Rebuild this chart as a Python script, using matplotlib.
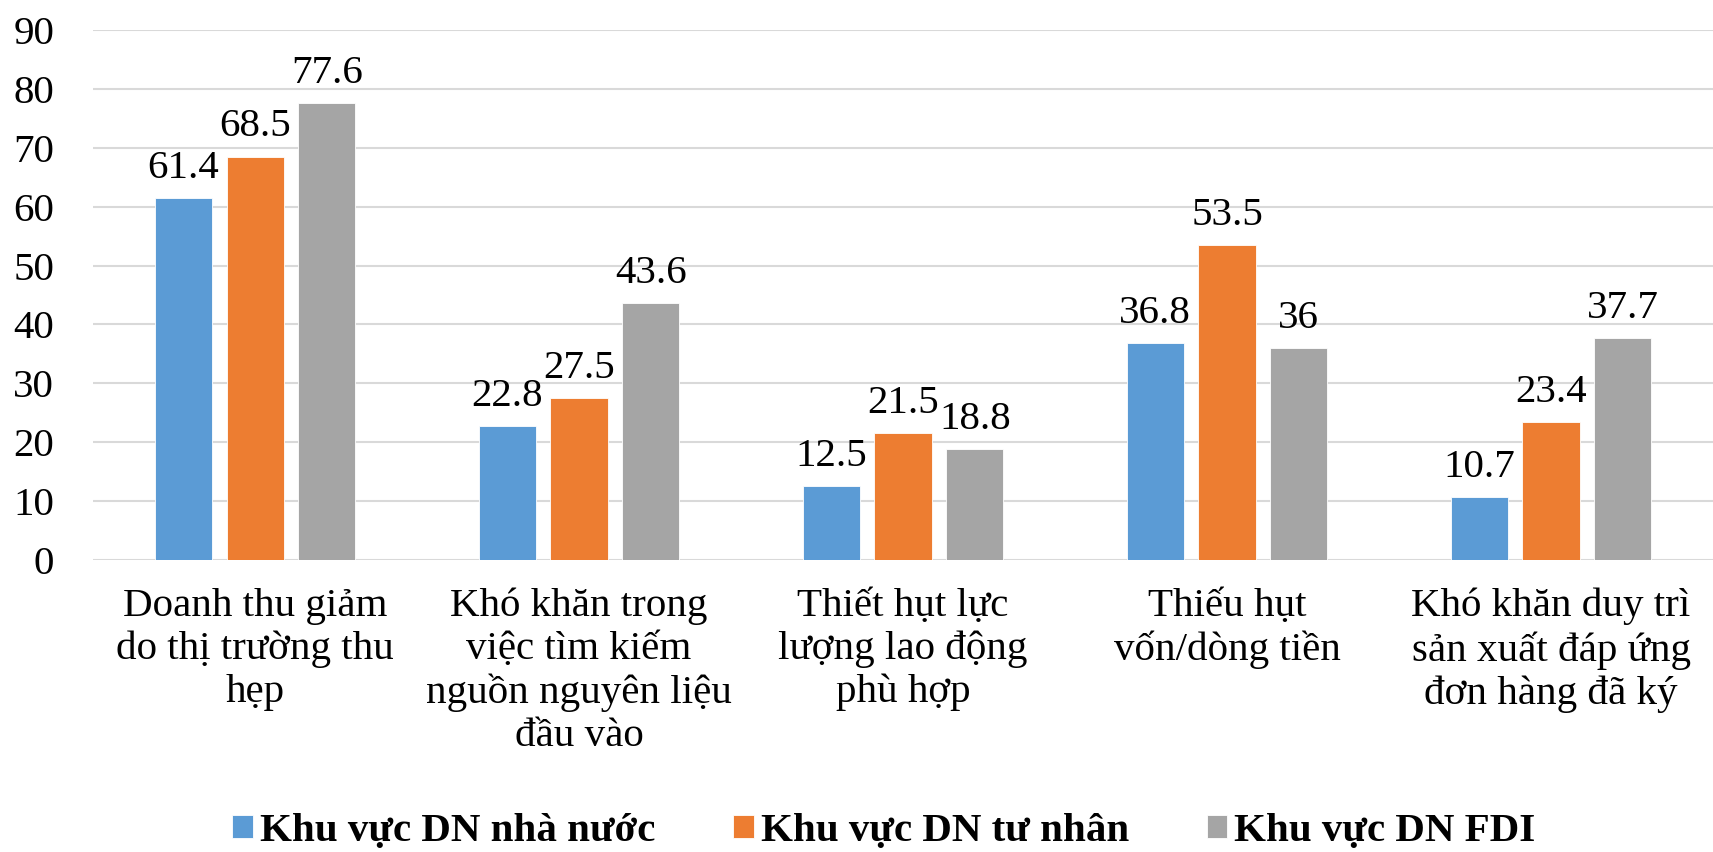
import numpy as np
import matplotlib
matplotlib.use("Agg")
import matplotlib.pyplot as plt

plt.rcParams['font.serif'] = ['Liberation Serif', 'DejaVu Serif']
plt.rcParams['font.family'] = 'serif'

categories = ["Doanh thu giảm\ndo thị trường thu\nhẹp",
              "Khó khăn trong\nviệc tìm kiếm\nnguồn nguyên liệu\nđầu vào",
              "Thiết hụt lực\nlượng lao động\nphù hợp",
              "Thiếu hụt\nvốn/dòng tiền",
              "Khó khăn duy trì\nsản xuất đáp ứng\nđơn hàng đã ký"]
series_names = ["Khu vực DN nhà nước", "Khu vực DN tư nhân", "Khu vực DN FDI"]
nha_nuoc = [61.4, 22.8, 12.5, 36.8, 10.7]
tu_nhan = [68.5, 27.5, 21.5, 53.5, 23.4]
fdi = [77.6, 43.6, 18.8, 36, 37.7]
colors = ["#5B9BD5", "#ED7D31", "#A5A5A5"]

fig = plt.figure(figsize=(17.13, 8.52), dpi=100)
ax = fig.add_axes([0.0543, 0.3427, 0.9457, 0.6221])

x = np.arange(len(categories))
w = 0.176
step = 0.222
fs = 29.5
for i, (vals, c, name) in enumerate(zip([nha_nuoc, tu_nhan, fdi], colors, series_names)):
    bars = ax.bar(x + (i - 1) * step, vals, width=w, color=c, label=name,
                  edgecolor='white', linewidth=0.6, zorder=3)
    ax.bar_label(bars, labels=[f"{v:g}" for v in vals], padding=8, fontsize=fs)

ax.set_xlim(-0.5, len(categories) - 0.5)
ax.set_ylim(0, 90)
ax.set_yticks(range(0, 91, 10))
ax.set_yticklabels([str(v) for v in range(0, 91, 10)], fontsize=fs)
ax.grid(axis='y', color='#D9D9D9', linewidth=1.5, zorder=0)
for s in ax.spines.values():
    s.set_visible(False)
ax.tick_params(axis='y', length=0, pad=28)
ax.tick_params(axis='x', length=0, pad=20)
ax.set_xticks(x)
ax.set_xticklabels(categories, linespacing=1.2, fontsize=fs)

fig.legend(loc='lower center', bbox_to_anchor=(0.516, 0.002), ncol=3, frameon=False,
           prop={'weight': 'bold', 'size': fs},
           handlelength=0.5, handleheight=0.5,
           handletextpad=0.17, columnspacing=1.9, borderpad=0, borderaxespad=0)

fig.savefig("out.png", dpi=100)
